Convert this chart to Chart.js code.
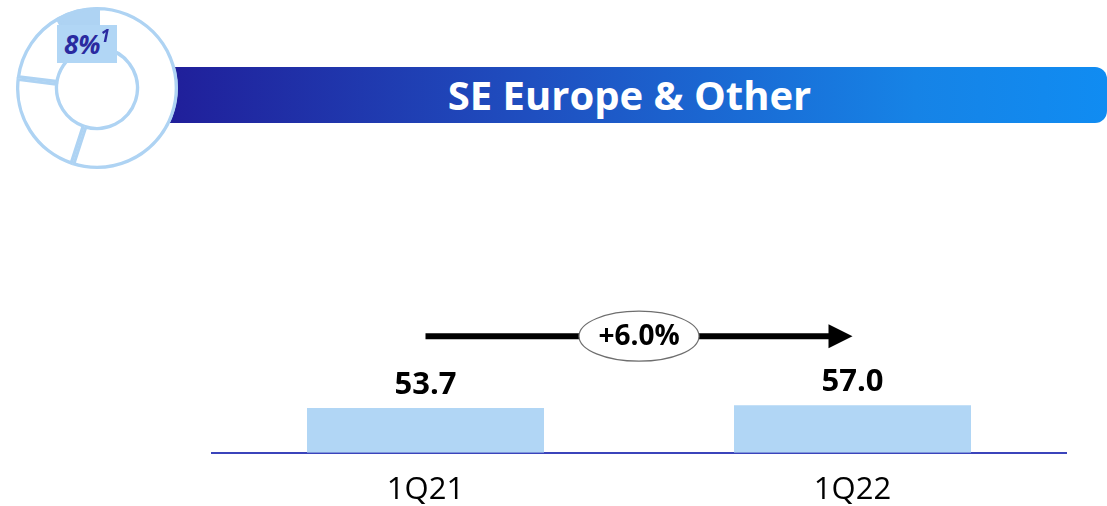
<!DOCTYPE html>
<html>
<head>
<meta charset="utf-8">
<script src="https://cdn.jsdelivr.net/npm/chart.js@4/dist/chart.umd.min.js"></script>
<style>
    html, body { margin: 0; padding: 0; background: #fff; }
    body { width: 1107px; height: 506px; position: relative; overflow: hidden; font-family: "Open Sans", sans-serif; }
    .banner {
        position: absolute; left: 150px; top: 67px; width: 957px; height: 56px;
        border-radius: 0 12px 12px 0;
        background: linear-gradient(to right, #201c98 0%, #1f4fc0 40%, #1683e6 80%, #108cf2 100%);
    }
    .banner-title {
        position: absolute; left: 150px; top: 67px; width: 955px; height: 56px;
        line-height: 56px; text-align: center; color: #fff;
        font-weight: bold; font-size: 40px;
    }
    .banner-title span { position: relative; left: 2px; }
    #mainChart { position: absolute; left: 0; top: 0; }
    #iconChart { position: absolute; left: 16px; top: 7px; }
    .share-box {
        position: absolute; left: 57px; top: 25px; width: 60px; height: 38px;
        background: #b1d6f5; color: #2a2aa0;
        font-weight: bold; font-style: italic; font-size: 26px; line-height: 38px;
        text-align: center;
    }
    .share-box sup { font-size: 17px; line-height: 0; position: relative; top: -2px; }
</style>
</head>
<body>
<div class="banner"></div>
<div class="banner-title"><span>SE Europe &amp; Other</span></div>
<canvas id="mainChart" width="1107" height="506"></canvas>
<canvas id="iconChart" width="162" height="162"></canvas>
<div class="share-box" id="shareBox"></div>
<script>
const categories = ['1Q21', '1Q22'];
const revenue = [53.7, 57.0];
const growthLabel = '+6.0%';
const shareSlices = [55, 22, 15, 8];
const shareLabel = '8%';
const shareNote = '1';

const barColor = '#b1d6f5';
const ringColor = '#aed3f3';

// data labels, growth arrow and the oval with the percentage
const overlayPlugin = {
    id: 'overlay',
    afterDatasetsDraw(chart) {
        const ctx = chart.ctx;
        const bars = chart.getDatasetMeta(0).data;
        ctx.save();
        ctx.fillStyle = '#000';
        ctx.font = 'bold 31px "Open Sans"';
        ctx.textAlign = 'center';
        ctx.textBaseline = 'alphabetic';
        bars.forEach((bar, i) => {
            ctx.fillText(revenue[i].toFixed(1), bar.x, bar.y - 14);
        });

        const top = Math.min(...bars.map(b => b.y));
        const y = top - 69;
        const x0 = bars[0].x;
        const x1 = bars[bars.length - 1].x;
        ctx.strokeStyle = '#000';
        ctx.lineWidth = 6;
        ctx.beginPath();
        ctx.moveTo(x0, y);
        ctx.lineTo(x1 - 22, y);
        ctx.stroke();
        ctx.beginPath();
        ctx.moveTo(x1 - 24, y - 12);
        ctx.lineTo(x1, y);
        ctx.lineTo(x1 - 24, y + 12);
        ctx.closePath();
        ctx.fill();

        const cx = (x0 + x1) / 2;
        ctx.beginPath();
        ctx.ellipse(cx, y, 60, 25, 0, 0, Math.PI * 2);
        ctx.fillStyle = '#fff';
        ctx.fill();
        ctx.lineWidth = 1.2;
        ctx.strokeStyle = '#6e6e6e';
        ctx.stroke();
        ctx.fillStyle = '#000';
        ctx.font = 'bold 28px "Open Sans"';
        ctx.textBaseline = 'middle';
        ctx.fillText(growthLabel, cx, y + 1);
        ctx.restore();
    }
};

function initializeCharts() {
    const mainCtx = document.getElementById('mainChart');
    new Chart(mainCtx.getContext('2d'), {
        type: 'bar',
        data: {
            labels: categories,
            datasets: [{
                data: revenue,
                backgroundColor: barColor,
                borderWidth: 0,
                barPercentage: 0.555,
                categoryPercentage: 1
            }]
        },
        options: {
            responsive: false,
            animation: false,
            devicePixelRatio: 1,
            layout: { padding: { left: 212, right: 41, top: 152, bottom: -22 } },
            plugins: { legend: { display: false }, tooltip: { enabled: false } },
            scales: {
                y: { display: false, min: 0, max: 360 },
                x: {
                    grid: { display: false, drawTicks: false },
                    border: { display: true, color: '#3b44bb', width: 2 },
                    ticks: {
                        color: '#000',
                        padding: 19,
                        font: { family: '"Open Sans"', size: 31 }
                    }
                }
            }
        },
        plugins: [overlayPlugin]
    });

    const iconCtx = document.getElementById('iconChart');
    new Chart(iconCtx.getContext('2d'), {
        type: 'doughnut',
        data: {
            datasets: [{
                data: shareSlices,
                backgroundColor: ['#fff', '#fff', '#fff', ringColor],
                borderColor: ringColor,
                borderWidth: 3,
                borderAlign: 'inner'
            }]
        },
        options: {
            responsive: false,
            animation: false,
            devicePixelRatio: 1,
            cutout: '48%',
            plugins: { legend: { display: false }, tooltip: { enabled: false } }
        }
    });

    document.getElementById('shareBox').innerHTML = `${shareLabel}<sup>${shareNote}</sup>`;
}

document.addEventListener('DOMContentLoaded', function() {
    initializeCharts();
});
</script>
</body>
</html>
